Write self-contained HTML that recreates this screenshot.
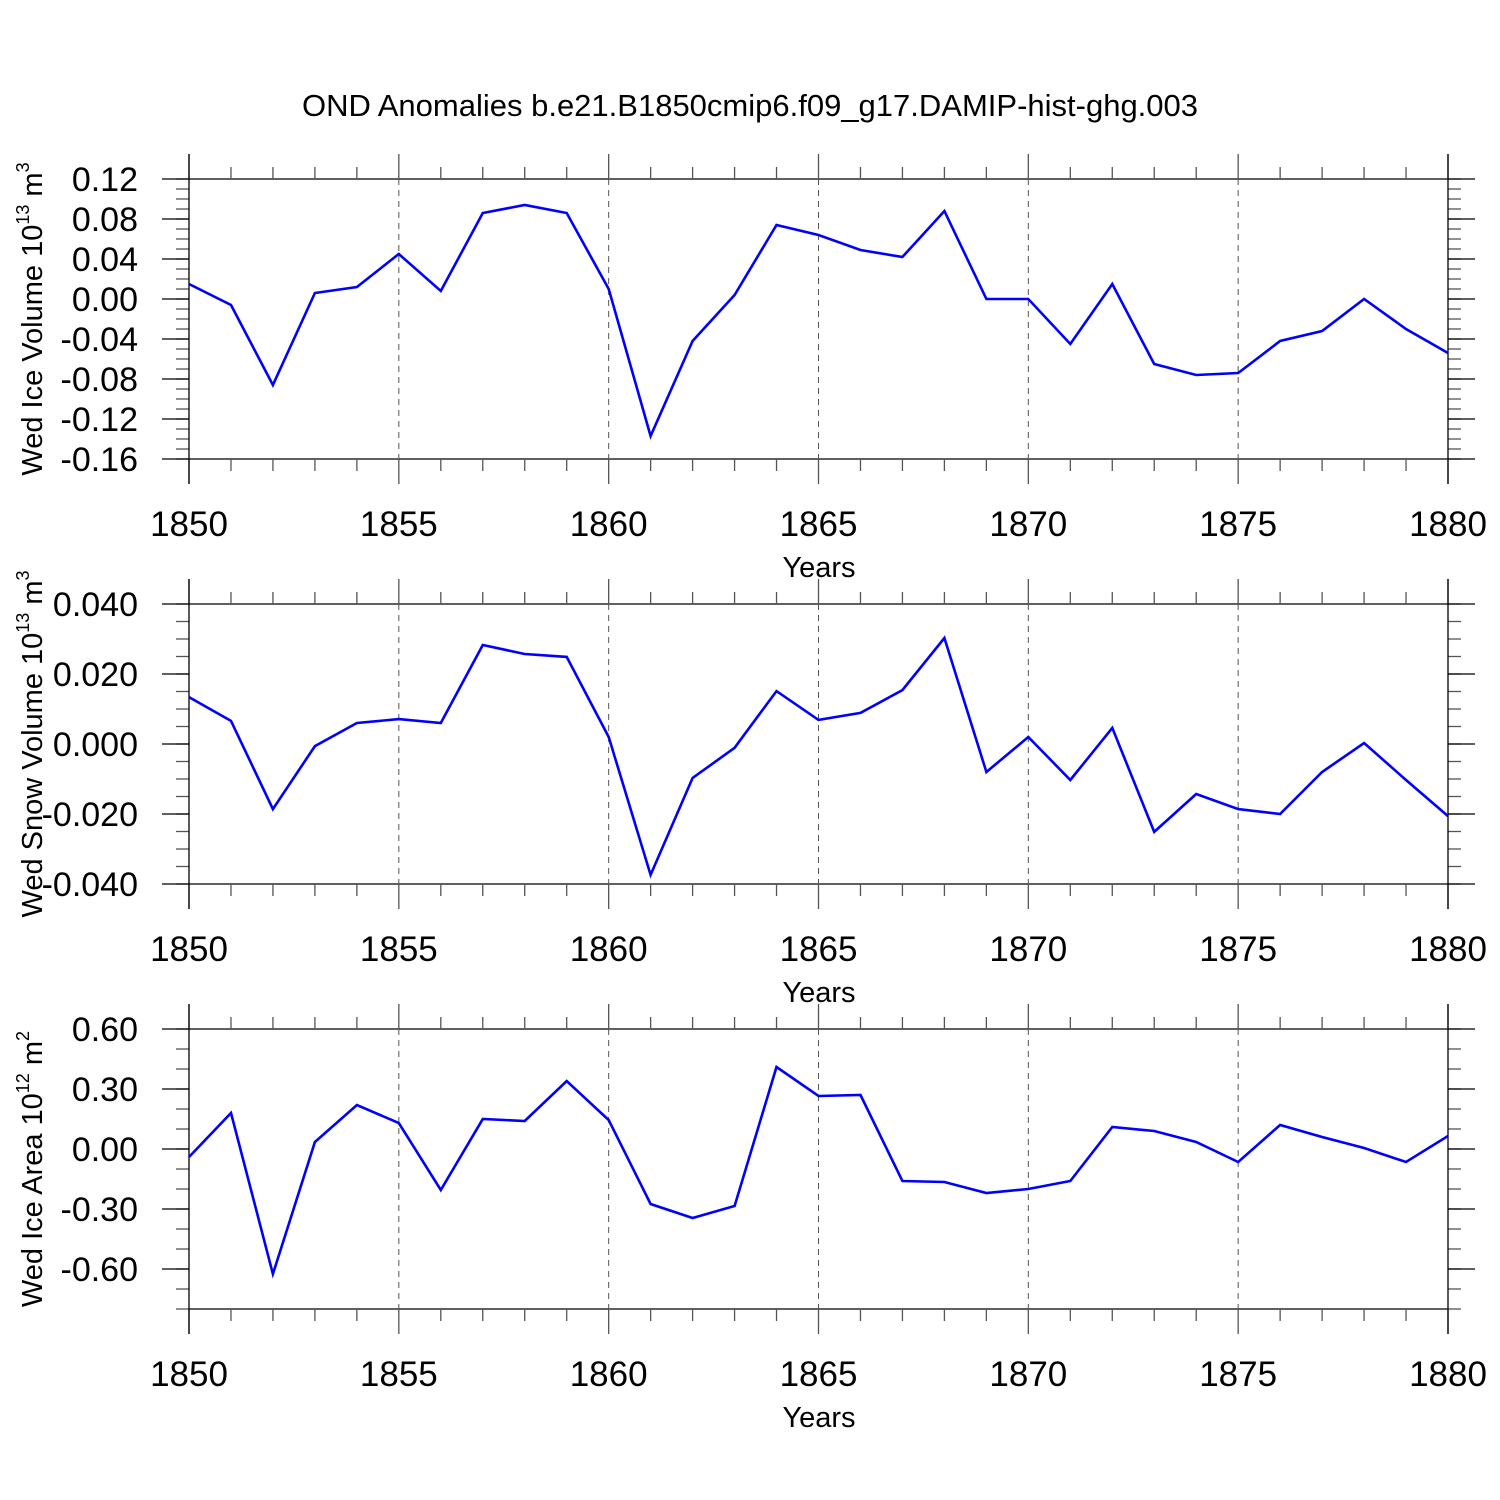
<!DOCTYPE html>
<html><head><meta charset="utf-8"><style>body{margin:0;background:#fff}svg{display:block}text{font-family:"Liberation Sans",sans-serif;fill:#000}</style></head>
<body>
<svg id="c" width="1500" height="1500" xmlns="http://www.w3.org/2000/svg">
<text x="750" y="116" font-size="31" text-anchor="middle">OND Anomalies b.e21.B1850cmip6.f09_g17.DAMIP-hist-ghg.003</text>
</svg>
<script>
const years=[1850,1851,1852,1853,1854,1855,1856,1857,1858,1859,1860,1861,1862,1863,1864,1865,1866,1867,1868,1869,1870,1871,1872,1873,1874,1875,1876,1877,1878,1879,1880];
const xTicks=[1850,1855,1860,1865,1870,1875,1880];
const iceVolume=[0.015,-0.006,-0.086,0.006,0.012,0.045,0.008,0.086,0.094,0.086,0.010,-0.137,-0.042,0.004,0.074,0.064,0.049,0.042,0.088,0.000,0.000,-0.045,0.015,-0.065,-0.076,-0.074,-0.042,-0.032,0.000,-0.030,-0.054];
const snowVolume=[0.0134,0.0066,-0.0186,-0.0006,0.006,0.0071,0.006,0.0283,0.0257,0.0249,0.002,-0.0374,-0.0097,-0.0011,0.0151,0.0069,0.0089,0.0154,0.0303,-0.008,0.002,-0.0103,0.0046,-0.0251,-0.0143,-0.0186,-0.02,-0.008,0.0003,-0.0103,-0.0206];
const iceArea=[-0.04,0.18,-0.625,0.035,0.22,0.13,-0.205,0.15,0.14,0.34,0.145,-0.275,-0.345,-0.285,0.41,0.265,0.27,-0.16,-0.165,-0.22,-0.2,-0.16,0.11,0.09,0.035,-0.065,0.12,0.06,0.005,-0.065,0.065];
const yTicks1=["0.12","0.08","0.04","0.00","-0.04","-0.08","-0.12","-0.16"];
const yTicks2=["0.040","0.020","0.000","-0.020","-0.040"];
const yTicks3=["0.60","0.30","0.00","-0.30","-0.60"];
const svg=document.getElementById('c');const NS='http://www.w3.org/2000/svg';
function mk(t,a,p){const e=document.createElementNS(NS,t);for(const k in a)e.setAttribute(k,a[k]);(p||svg).appendChild(e);return e;}
const X0=189,X1=1448;
function xs(v){return X0+(v-1850)/30*(X1-X0);}
function panel(id,top,ymin,ymax,minorStep,ticks,data,title,sup,unit){
 const bot=top+280;const ys=v=>top+(ymax-v)/(ymax-ymin)*280;
 const g=mk('g',{});
 
 
 const st={stroke:'#000','stroke-width':1.3,fill:'none'};
 const n=Math.round((ymax-ymin)/minorStep);
 for(let i=0;i<=n;i++){const y=ys(ymin+i*minorStep);mk('line',Object.assign({x1:X0-13,x2:X0,y1:y,y2:y},st,{stroke:'#555'}),g);mk('line',Object.assign({x1:X1,x2:X1+13,y1:y,y2:y},st,{stroke:'#555'}),g);}
 ticks.forEach(t=>{const v=parseFloat(t),y=ys(v);
  mk('line',Object.assign({x1:X0-27,x2:X0,y1:y,y2:y},st),g);mk('line',Object.assign({x1:X1,x2:X1+27,y1:y,y2:y},st),g);
  const tx=mk('text',{x:138,y:y+12,'font-size':34,'text-anchor':'end'},g);tx.textContent=t;
  
  });
 mk('line',Object.assign({x1:X0,x2:X1,y1:top,y2:top},st),g);mk('line',Object.assign({x1:X0,x2:X1,y1:bot,y2:bot},st),g);
 years.forEach(yr=>{const x=xs(yr);const maj=(yr%5===0);const L=maj?25:12;
  mk('line',Object.assign({x1:x,x2:x,y1:top-L,y2:top},st,{stroke:'#555'}),g);mk('line',Object.assign({x1:x,x2:x,y1:bot,y2:bot+L},st,{stroke:'#555'}),g);
  if(maj&&yr!==1850&&yr!==1880)mk('line',{x1:x,x2:x,y1:top,y2:bot,stroke:'#555','stroke-width':1,'stroke-dasharray':'6,5'},g);});
 mk('line',Object.assign({x1:X0,x2:X0,y1:top-25,y2:bot+25},st),g);mk('line',Object.assign({x1:X1,x2:X1,y1:top-25,y2:bot+25},st),g);
 xTicks.forEach(yr=>{const tx=mk('text',{x:xs(yr),y:bot+77,'font-size':35,'text-anchor':'middle'},g);tx.textContent=yr;
  
  });
 const xt=mk('text',{x:819,y:bot+118,'font-size':29,'text-anchor':'middle'},g);xt.textContent='Years';
 
 
 const cy=top+140;
 const yt=mk('text',{x:0,y:0,'font-size':29,'text-anchor':'middle',transform:`translate(42,${cy}) rotate(-90)`},g);
 
 
 const s1=document.createElementNS(NS,'tspan');s1.textContent=title+' 10';yt.appendChild(s1);
 const s2=document.createElementNS(NS,'tspan');s2.setAttribute('font-size','18');s2.setAttribute('dy','-13');s2.textContent=sup;yt.appendChild(s2);
 const s3=document.createElementNS(NS,'tspan');s3.setAttribute('dy','13');s3.textContent=' m';yt.appendChild(s3);
 const s4=document.createElementNS(NS,'tspan');s4.setAttribute('font-size','18');s4.setAttribute('dy','-13');s4.textContent=unit;yt.appendChild(s4);
 const pts=data.map((v,i)=>xs(years[i]).toFixed(1)+','+ys(v).toFixed(1)).join(' ');
 const pl=mk('polyline',{points:pts,fill:'none',stroke:'#0000ff','stroke-width':2.6,'stroke-linejoin':'miter'},g);
 
 
}
panel('ice-volume',179,-0.16,0.12,0.01,yTicks1,iceVolume,'Wed Ice Volume','13','3');
panel('snow-volume',604,-0.04,0.04,0.005,yTicks2,snowVolume,'Wed Snow Volume','13','3');
panel('ice-area',1029,-0.8,0.6,0.1,yTicks3,iceArea,'Wed Ice Area','12','2');
</script>
</body></html>
